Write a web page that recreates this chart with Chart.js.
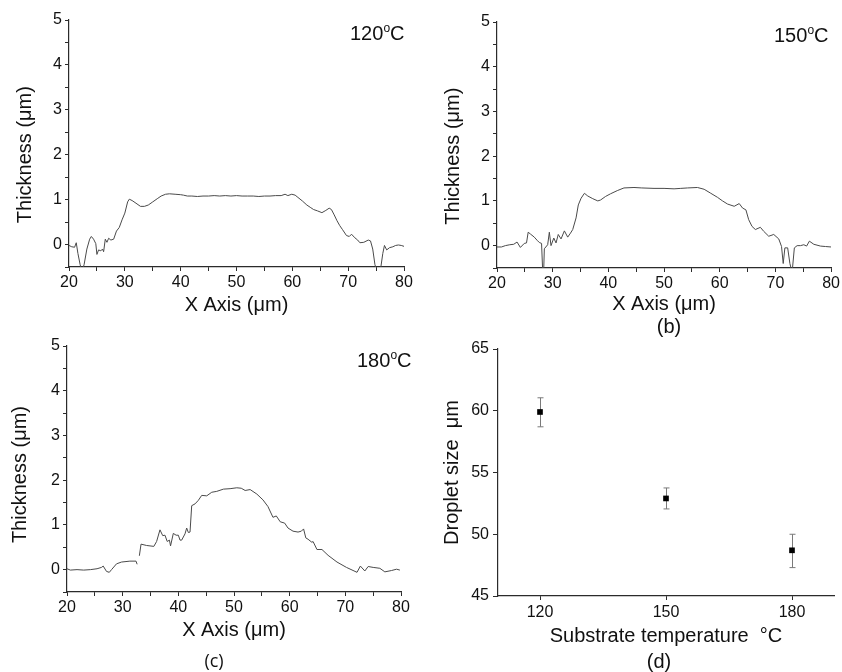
<!DOCTYPE html>
<html>
<head>
<meta charset="utf-8">
<script src="https://cdn.jsdelivr.net/npm/chart.js@4/dist/chart.umd.min.js"></script>
<style>
  html, body { margin: 0; padding: 0; background: #fff; }
  #wrap { position: relative; width: 842px; height: 672px; overflow: hidden; background: #fff; }
  canvas { position: absolute; }
  .ann { position: absolute; font-family: "Liberation Sans", Arial, sans-serif; font-size: 20px; line-height: 20px; color: #111; white-space: nowrap; }
  .ann .sup { position: relative; top: -8px; font-size: 12px; }
  .lab { position: absolute; font-family: "Liberation Sans", Arial, sans-serif; font-size: 20px; line-height: 20px; color: #111; text-align: center; width: 60px; }
</style>
</head>
<body>
<div id="wrap">
  <canvas id="cA" width="421" height="320" style="left:0px;top:0px"></canvas>
  <canvas id="cB" width="421" height="320" style="left:421px;top:0px"></canvas>
  <canvas id="cC" width="421" height="352" style="left:0px;top:320px"></canvas>
  <canvas id="cD" width="421" height="352" style="left:421px;top:320px"></canvas>
  <div class="ann" style="left:350px;top:23px">120<span class="sup">o</span>C</div>
  <div class="ann" style="left:774px;top:25px">150<span class="sup">o</span>C</div>
  <div class="ann" style="left:357px;top:350px">180<span class="sup">o</span>C</div>
  <div class="lab" style="left:639px;top:316px">(b)</div>
  <div class="lab" style="left:184px;top:650px;font-family:'Open Sans',sans-serif;font-size:18px">(c)</div>
  <div class="lab" style="left:629px;top:651px">(d)</div>
</div>
<script>
// ---------- data: thickness profiles ----------
const xA = [20.0,20.5,21.0,21.3,21.6,22.0,22.3,22.7,23.2,23.7,24.0,24.4,24.8,25.0,25.3,25.7,26.0,26.2,26.5,26.8,27.1,27.5,28.0,28.5,29.0,29.5,30.0,30.5,30.8,31.3,32.0,32.8,33.5,34.2,35.0,35.8,36.5,37.3,38.0,39.0,40.0,40.5,41.2,42.0,43.0,44.0,45.0,46.0,47.0,48.0,49.0,50.0,51.0,52.0,53.0,54.0,55.0,56.0,57.0,58.0,58.7,59.2,59.9,60.5,61.0,61.8,62.6,63.2,63.8,64.5,65.3,66.0,66.6,67.0,67.5,68.0,68.5,69.0,69.7,70.2,70.6,71.2,71.7,72.1,72.8,73.6,74.0,74.4,74.8,75.2,75.8,76.2,76.5,76.9,77.4,78.0,78.5,79.0,79.5,80.0];
const yA = [-0.02,-0.05,-0.06,0.04,-0.20,-0.45,-0.60,-0.45,-0.10,0.12,0.18,0.12,0.02,-0.22,-0.12,-0.14,-0.10,-0.16,0.12,0.05,0.14,0.10,0.12,0.30,0.38,0.55,0.70,0.95,1.01,0.98,0.92,0.85,0.85,0.88,0.95,1.02,1.08,1.12,1.13,1.12,1.11,1.10,1.08,1.08,1.07,1.08,1.08,1.09,1.08,1.09,1.08,1.09,1.08,1.08,1.08,1.07,1.08,1.08,1.09,1.09,1.12,1.09,1.12,1.10,1.05,0.97,0.88,0.83,0.78,0.75,0.71,0.76,0.81,0.78,0.66,0.53,0.42,0.33,0.20,0.18,0.23,0.15,0.10,0.04,0.05,0.10,0.08,-0.10,-0.45,-0.60,-0.55,-0.20,-0.02,-0.12,-0.07,-0.05,-0.02,-0.01,-0.02,-0.04];

const xB = [20.0,20.8,21.5,22.3,23.0,23.6,24.2,24.9,25.3,25.6,26.0,26.7,27.2,27.6,28.0,28.2,28.4,28.5,29.1,29.4,29.7,30.2,30.6,31.0,31.5,32.1,32.7,33.2,33.6,34.2,34.6,35.1,35.7,36.3,37.2,38.1,38.6,39.5,40.4,41.6,42.8,44.6,46.0,48.2,50.0,51.8,53.0,54.2,56.0,57.2,58.4,59.6,60.5,61.4,62.6,63.5,64.1,64.7,65.2,65.8,66.4,67.3,67.9,68.8,69.7,70.6,71.1,71.4,71.7,72.2,72.6,73.0,73.4,73.9,74.5,75.1,75.6,76.1,76.9,78.1,79.0,80.0];
const yB = [-0.03,-0.03,0.00,0.02,0.03,0.08,-0.04,0.05,0.06,0.30,0.26,0.19,0.12,0.07,0.05,-0.55,-0.50,-0.07,0.02,0.30,0.00,0.17,0.06,0.25,0.15,0.33,0.19,0.28,0.36,0.62,0.91,1.06,1.17,1.11,1.05,1.00,1.02,1.10,1.16,1.23,1.29,1.30,1.29,1.28,1.28,1.27,1.28,1.29,1.30,1.26,1.17,1.08,1.00,0.93,0.88,0.94,0.84,0.80,0.58,0.43,0.36,0.41,0.32,0.21,0.25,0.15,-0.02,-0.40,-0.05,-0.05,-0.40,-0.60,-0.05,0.00,0.00,0.02,-0.01,0.10,0.03,-0.01,-0.02,-0.03];

const xC = [20.0,20.6,21.8,23.0,24.2,25.4,26.2,26.5,27.1,27.6,28.0,28.9,29.8,31.3,32.4,32.6,32.8,33.0,33.3,34.3,35.6,36.1,36.7,37.2,37.6,38.0,38.4,38.6,39.1,39.6,40.0,40.3,40.6,41.2,41.5,41.8,42.1,42.4,43.0,43.6,44.2,45.1,46.0,46.9,48.1,49.3,50.5,51.3,52.0,52.9,54.1,55.2,56.1,57.0,57.6,58.3,59.1,59.7,60.6,61.5,62.1,62.5,62.9,63.3,64.0,64.2,64.9,65.8,66.9,68.5,70.2,72.1,72.7,73.5,74.1,75.0,76.2,77.1,78.3,79.2,79.8];
const yC = [0.02,-0.01,0.00,-0.01,0.00,0.02,0.05,0.08,-0.04,-0.06,0.00,0.13,0.17,0.19,0.19,0.12,null,0.31,0.57,0.54,0.52,0.63,0.89,0.76,0.77,0.63,0.66,0.53,0.81,0.77,0.77,0.66,0.66,0.80,0.93,0.83,0.84,1.43,1.47,1.55,1.66,1.65,1.73,1.75,1.80,1.81,1.83,1.82,1.77,1.79,1.69,1.56,1.41,1.17,1.20,1.07,1.04,0.93,0.86,0.84,0.86,0.91,0.71,0.68,0.61,0.63,0.45,0.45,0.32,0.17,0.05,-0.06,0.08,-0.03,0.07,0.05,0.03,-0.05,-0.02,0.01,-0.01];

// ---------- data: droplet size vs substrate temperature ----------
const temps = [120, 150, 180];
const dropletSize = [59.9, 52.9, 48.7];
const dropletHigh = [61.05, 53.75, 50.0];
const dropletLow = [58.7, 52.05, 47.3];
const tempTicks = [120, 150, 180];

const FONT = "'Liberation Sans', Arial, sans-serif";
const AX = '#2b2b2b';
const NB = '\u00a0';

function thicknessChart(id, xs, ys, geo) {
  const pts = xs.map((x, i) => ({ x: x, y: ys[i] }));
  return new Chart(document.getElementById(id), {
    type: 'line',
    data: { datasets: [{ data: pts, borderColor: '#4a4a4a', borderWidth: 1, pointRadius: 0, tension: 0, spanGaps: false, fill: false }] },
    options: {
      responsive: false, animation: false, devicePixelRatio: 1,
      layout: { padding: geo.pad },
      plugins: { legend: { display: false }, tooltip: { enabled: false } },
      scales: {
        x: {
          type: 'linear', min: 20, max: 80,
          grid: { display: true, drawOnChartArea: false, drawTicks: true, tickLength: 4, color: AX },
          border: { display: true, color: AX, width: 1.2 },
          ticks: { stepSize: 5, autoSkip: false, maxRotation: 0, padding: 2, color: '#111', font: { family: FONT, size: 16 },
                   callback: v => (v % 10 === 0 ? v : '') },
          title: { display: true, text: 'X Axis (\u03bcm)', color: '#111', font: { family: FONT, size: 20 }, padding: { top: 0, bottom: 0 } },
          afterFit: s => { s.height = geo.xh; }
        },
        y: {
          type: 'linear', min: -0.5, max: 5,
          grid: { display: true, drawOnChartArea: false, drawTicks: true, tickLength: 4, color: AX },
          border: { display: true, color: AX, width: 1.2 },
          ticks: { stepSize: 0.5, autoSkip: false, padding: 3, color: '#111', font: { family: FONT, size: 16 },
                   callback: v => (Number.isInteger(v) ? v : '') },
          title: { display: true, text: 'Thickness (\u03bcm)' + NB.repeat(geo.sp), color: '#111', font: { family: FONT, size: 20 }, padding: { top: geo.ytp, bottom: 0 } },
          afterFit: s => { s.width = geo.yw; }
        }
      }
    }
  });
}

thicknessChart('cA', xA, yA, { pad: { left: 0, top: 20, right: 17, bottom: 3 }, xh: 50, yw: 69, ytp: 13, sp: 4 });
thicknessChart('cB', xB, yB, { pad: { left: 0, top: 22, right: 10, bottom: 4 }, xh: 48, yw: 76, ytp: 20, sp: 4 });
thicknessChart('cC', xC, yC, { pad: { left: 0, top: 26, right: 20, bottom: 30 }, xh: 50, yw: 67, ytp: 8, sp: 2 });

const errorBars = {
  id: 'errorBars',
  beforeDatasetsDraw(chart) {
    const ctx = chart.ctx, xs = chart.scales.x, ys = chart.scales.y;
    ctx.save();
    ctx.strokeStyle = '#7a7a7a';
    ctx.lineWidth = 1;
    temps.forEach((t, i) => {
      const px = Math.round(xs.getPixelForValue(t)) + 0.5;
      const hi = ys.getPixelForValue(dropletHigh[i]);
      const lo = ys.getPixelForValue(dropletLow[i]);
      ctx.beginPath();
      ctx.moveTo(px, hi); ctx.lineTo(px, lo);
      ctx.moveTo(px - 3, hi); ctx.lineTo(px + 3, hi);
      ctx.moveTo(px - 3, lo); ctx.lineTo(px + 3, lo);
      ctx.stroke();
    });
    ctx.restore();
  }
};

new Chart(document.getElementById('cD'), {
  type: 'scatter',
  data: { datasets: [{ data: temps.map((t, i) => ({ x: t, y: dropletSize[i] })), pointStyle: 'rect', pointRadius: 4, backgroundColor: '#000', borderColor: '#000', borderWidth: 0 }] },
  options: {
    responsive: false, animation: false, devicePixelRatio: 1,
    layout: { padding: { left: 0, top: 29, right: 8, bottom: 24 } },
    plugins: { legend: { display: false }, tooltip: { enabled: false } },
    scales: {
      x: {
        type: 'linear', min: 110, max: 190,
        afterBuildTicks: s => { s.ticks = tempTicks.map(v => ({ value: v })); },
        grid: { display: true, drawOnChartArea: false, drawTicks: true, tickLength: 4, color: AX },
        border: { display: true, color: AX, width: 1.2 },
        ticks: { autoSkip: false, maxRotation: 0, padding: 3, color: '#111', font: { family: FONT, size: 16 } },
        title: { display: true, text: 'Substrate temperature  \u00b0C', color: '#111', font: { family: FONT, size: 20 }, padding: { top: 0, bottom: 0 } },
        afterFit: s => { s.height = 52; }
      },
      y: {
        type: 'linear', min: 45, max: 65,
        grid: { display: true, drawOnChartArea: false, drawTicks: true, tickLength: 5, color: AX },
        border: { display: true, color: AX, width: 1.2 },
        ticks: { stepSize: 5, padding: 4, color: '#111', font: { family: FONT, size: 16 } },
        title: { display: true, text: 'Droplet size  \u03bcm', color: '#111', font: { family: FONT, size: 20 }, padding: { top: 19, bottom: 0 } },
        afterFit: s => { s.width = 77; }
      }
    }
  },
  plugins: [errorBars]
});
</script>
</body>
</html>
